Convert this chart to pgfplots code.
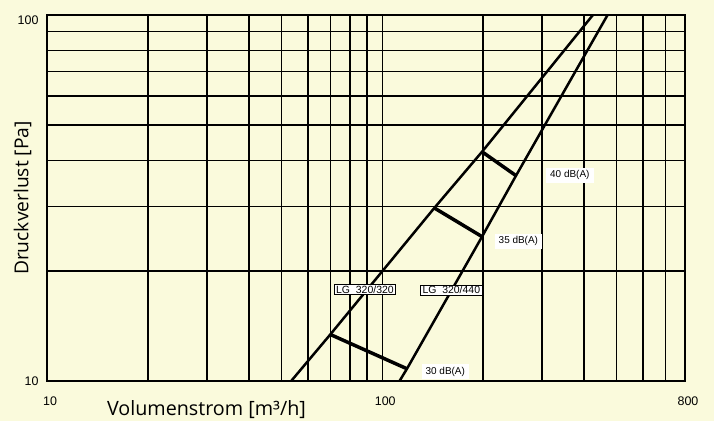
\documentclass[border=0pt]{standalone}
\usepackage{pgfplots}
\pgfplotsset{compat=1.18}
\usepackage{fontspec}
\setmainfont{Liberation Sans}
\newfontfamily\labfont{Open Sans}
\definecolor{bg}{RGB}{250,250,220}
\begin{document}
\begin{tikzpicture}[x=1bp,y=1bp]
\fill[bg] (-47,-40) rectangle (667,381);
\useasboundingbox (-47,-40) rectangle (667,381);
\begin{axis}[
  at={(0,0)}, anchor=south west,
  scale only axis, width=638bp, height=366bp,
  xmode=log, ymode=log,
  xmin=10, xmax=800, ymin=10, ymax=100,
  xtick={10,100,800}, xticklabels={10,100,800},
  ytick={10}, yticklabels={10},
  extra y ticks={100}, extra y tick labels={100},
  extra y tick style={yticklabel style={yshift=-5bp}},
  minor xtick={20,30,40,50,60,70,80,90,200,300,400,500,600,700},
  minor ytick={20,30,40,50,60,70,80,90},
  grid=both,
  major grid style={black, line width=1.5bp},
  minor grid style={black, line width=1.5bp},
  tick style={draw=none},
  axis line style={black, line width=2.2bp},
  x tick label style={font=\fontsize{12.5}{14}\selectfont, yshift=-12bp, xshift=3bp},
  y tick label style={font=\fontsize{12.5}{14}\selectfont, xshift=-5bp},
  xlabel={Volumenstrom [m³/h]},
  xlabel style={font=\labfont\fontsize{19.8}{22}\selectfont, at={(axis description cs:0.25,0)}, anchor=base, yshift=-34bp},
  ylabel={Druckverlust [Pa]},
  ylabel style={font=\labfont\fontsize{19.3}{21}\selectfont, at={(axis description cs:-0.0384,0.5)}, anchor=center},
  clip=false,
]
\addplot[black, line width=2.5bp] coordinates {(53.5,10) (70,13.4) (143,29.7) (198.5,42.3) (425,100)};
\addplot[black, line width=2.5bp] coordinates {(112.6,10) (118.5,10.8) (198.5,24.8) (250.6,36.4) (470,100)};
\addplot[black, line width=3.5bp] coordinates {(70,13.4) (118.5,10.8)};
\addplot[black, line width=3.5bp] coordinates {(143,29.7) (198.5,24.8)};
\addplot[black, line width=3.5bp] coordinates {(198.5,42.3) (250.6,36.4)};
\node[fill=white, inner xsep=4bp, inner ysep=3bp, font=\fontsize{10}{11}\selectfont] at (axis cs:362.8,36.5) {40 dB(A)};
\node[fill=white, inner xsep=4bp, inner ysep=3bp, font=\fontsize{10}{11}\selectfont] at (axis cs:254.7,24.1) {35 dB(A)};
\node[fill=white, inner xsep=4bp, inner ysep=3bp, font=\fontsize{10}{11}\selectfont] at (axis cs:154.2,10.6) {30 dB(A)};
\node[draw=black, line width=0.8bp, fill=white, inner xsep=2bp, inner ysep=1bp, font=\fontsize{10.5}{11}\selectfont] at (axis cs:88.8,17.8) {LG\ \ 320/320};
\node[draw=black, line width=0.8bp, fill=white, inner xsep=2bp, inner ysep=1bp, font=\fontsize{10.5}{11}\selectfont] at (axis cs:160.7,17.7) {LG\ \ 320/440};
\end{axis}
\end{tikzpicture}
\end{document}
